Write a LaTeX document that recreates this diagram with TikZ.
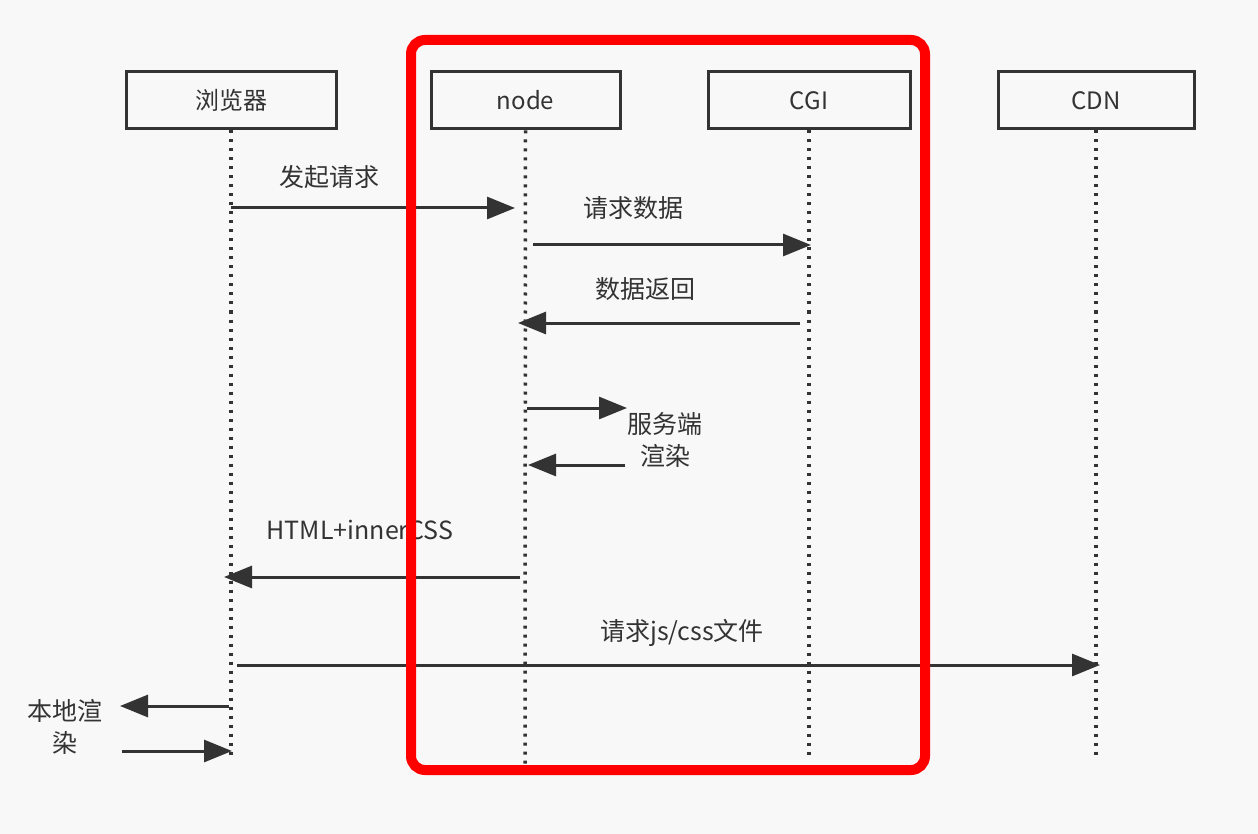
\documentclass[tikz,border=0pt]{standalone}
\usepackage{fontspec}
\setmainfont{Noto Sans CJK SC}
\usetikzlibrary{arrows.meta}
\definecolor{bgcol}{HTML}{F8F8F8}
\definecolor{inkcol}{HTML}{333333}
\definecolor{framered}{HTML}{FF0000}
\tikzset{
	headbox/.style={draw=inkcol, line width=3pt, fill=bgcol, minimum height=57pt, inner sep=0pt,
		font=\fontsize{24}{29}\selectfont, text=inkcol},
	lifeline/.style={draw=inkcol, line width=3.5pt, dash pattern=on 3pt off 6pt},
	msg/.style={draw=inkcol, line width=3pt, -{Triangle[length=28pt,width=22pt]}},
	msglabel/.style={font=\fontsize{25}{30}\selectfont, text=inkcol, inner sep=0pt, align=center}
}

\begin{document}
\begin{tikzpicture}[x=1pt, y=-1pt]
	\useasboundingbox[fill=bgcol] (0,0) rectangle (1258,834);

	%lifeline heads
	\node[headbox, minimum width=210pt] (browser) at (231,100.5) {浏览器};
	\node[headbox, minimum width=189pt] (nodesrv) at (525.5,100.5) {node};
	\node[headbox, minimum width=202pt] (cgi) at (809,100.5) {CGI};
	\node[headbox, minimum width=196pt] (cdn) at (1096,100.5) {CDN};

	%lifeline ends
	\coordinate (browserend) at (231,755);
	\coordinate (nodeend) at (525,765);
	\coordinate (cgiend) at (809,755);
	\coordinate (cdnend) at (1096,755);
	\draw[lifeline] (browser.south) -- (browserend);
	\draw[lifeline] (nodesrv.south) -- (nodeend);
	\draw[lifeline] (cgi.south) -- (cgiend);
	\draw[lifeline] (cdn.south) -- (cdnend);

	%message end points
	\coordinate (a1) at (231,208);  \coordinate (a2) at (515,208);
	\coordinate (b1) at (533,245);  \coordinate (b2) at (811,245);
	\coordinate (c1) at (800,323);  \coordinate (c2) at (518,323);
	\coordinate (d1) at (527,408);  \coordinate (d2) at (627,408);
	\coordinate (e1) at (625,465);  \coordinate (e2) at (528,465);
	\coordinate (f1) at (520,577);  \coordinate (f2) at (224,577);
	\coordinate (g1) at (237,665);  \coordinate (g2) at (1100,665);
	\coordinate (h1) at (229,706);  \coordinate (h2) at (120,706);
	\coordinate (i1) at (122,751);  \coordinate (i2) at (232,751);

	%messages
	\draw[msg] (a1) -- (a2);
	\draw[msg] (b1) -- (b2);
	\draw[msg] (c1) -- (c2);
	\draw[msg] (d1) -- (d2);
	\draw[msg] (e1) -- (e2);
	\draw[msg] (f1) -- (f2);
	\draw[msg] (g1) -- (g2);
	\draw[msg] (h1) -- (h2);
	\draw[msg] (i1) -- (i2);

	%labels
	\node[msglabel] (sendreq) at (329,177) {发起请求};
	\node[msglabel] (askdata) at (633,208) {请求数据};
	\node[msglabel] (retdata) at (645,289) {数据返回};
	\node[msglabel, font=\fontsize{25}{32}\selectfont] (ssr) at (665,440) {服务端\\渲染};
	\node[msglabel] (htmlcss) at (360,530) {HTML+innerCSS};
	\node[msglabel] (askfiles) at (682,633) {请求js/css文件};
	\node[msglabel, font=\fontsize{25}{32}\selectfont] (localr) at (65,727) {本地渲\\染};

	%red frame round node and CGI (drawn on top)
	\draw[framered, line width=10pt, rounded corners=14pt] (411,40) rectangle (925,770);
\end{tikzpicture}
\end{document}
